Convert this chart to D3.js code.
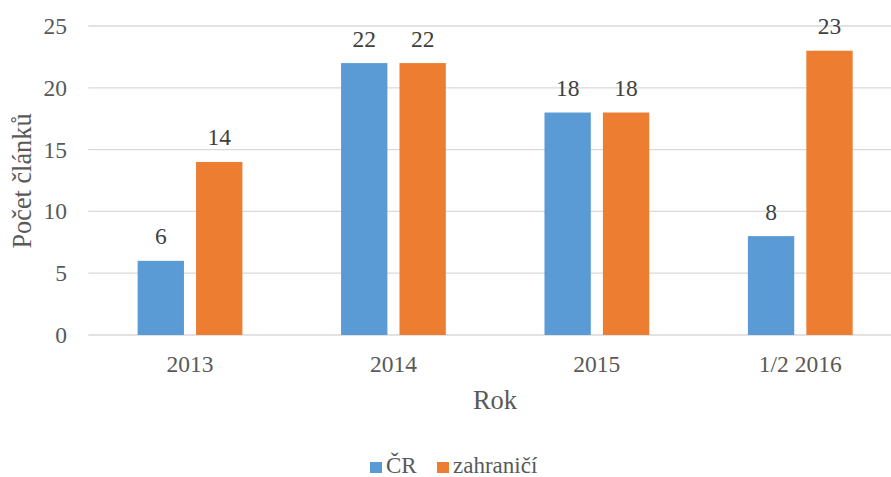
<!DOCTYPE html>
<html>
<head>
<meta charset="utf-8">
<script src="https://cdn.jsdelivr.net/npm/d3@7"></script>
<style>
body{margin:0;background:#fff;}
</style>
</head>
<body>
<svg width="891" height="477"></svg>
<script>
var categories = ["2013","2014","2015","1/2 2016"];
var seriesNames = ["ČR","zahraničí"];
var cr = [6,22,18,8];
var zahranici = [14,22,18,23];
var yTicks = [0,5,10,15,20,25];
var colors = ["#5B9BD5","#ED7D31"];

var svg = d3.select("svg");
var plotLeft = 88.3, plotRight = 902, plotTop = 26, plotBottom = 335;
var serif = "'Liberation Serif','Times New Roman',serif";

var x = d3.scaleBand().domain(categories).range([plotLeft,plotRight]).paddingInner(0.485).paddingOuter(0.2425);
var x1 = d3.scaleBand().domain(seriesNames).range([0,x.bandwidth()]).paddingInner(0.207);
var y = d3.scaleLinear().domain([0,25]).range([plotBottom,plotTop]);

// gridlines
svg.append("g").selectAll("line").data(yTicks).join("line")
	.attr("x1",plotLeft).attr("x2",891)
	.attr("y1",d=>y(d)).attr("y2",d=>y(d))
	.attr("stroke","#d9d9d9").attr("stroke-width",1.3);

// y tick labels
svg.append("g").selectAll("text").data(yTicks).join("text")
	.attr("x",67).attr("y",d=>y(d)+8)
	.attr("text-anchor","end").attr("font-family",serif)
	.attr("font-size","23.5px").attr("fill","#595959")
	.text(d=>d);

var series = [cr,zahranici];
series.forEach(function(vals,i){
	var g = svg.append("g");
	g.selectAll("rect").data(vals).join("rect")
		.attr("x",(d,j)=>x(categories[j])+x1(seriesNames[i]))
		.attr("y",d=>y(d))
		.attr("width",x1.bandwidth())
		.attr("height",d=>plotBottom-y(d))
		.attr("fill",colors[i]);
	g.selectAll("text").data(vals).join("text")
		.attr("x",(d,j)=>x(categories[j])+x1(seriesNames[i])+x1.bandwidth()/2)
		.attr("y",d=>y(d)-16.5)
		.attr("text-anchor","middle").attr("font-family",serif)
		.attr("font-size","23.5px").attr("fill","#404040")
		.text(d=>d);
});

// x labels
svg.append("g").selectAll("text").data(categories).join("text")
	.attr("x",d=>x(d)+x.bandwidth()/2)
	.attr("y",372)
	.attr("text-anchor","middle").attr("font-family",serif)
	.attr("font-size","23.5px").attr("fill","#595959")
	.text(d=>d);

// axis titles
svg.append("text").attr("x",495).attr("y",409)
	.attr("text-anchor","middle").attr("font-family",serif).attr("font-size","26.5px").attr("fill","#595959")
	.text("Rok");
svg.append("text").attr("transform","translate(31,181) rotate(-90)")
	.attr("text-anchor","middle").attr("font-family",serif).attr("font-size","26.3px").attr("fill","#595959")
	.text("Počet článků");

// legend
var lx = [370,437];
seriesNames.forEach(function(n,i){
	svg.append("rect").attr("x",lx[i]).attr("y",462).attr("width",12).attr("height",11).attr("fill",colors[i]);
	svg.append("text").attr("x",lx[i]+16).attr("y",473).attr("font-family",serif)
		.attr("font-size","23px").attr("fill","#595959").text(n);
});
</script>
</body>
</html>
